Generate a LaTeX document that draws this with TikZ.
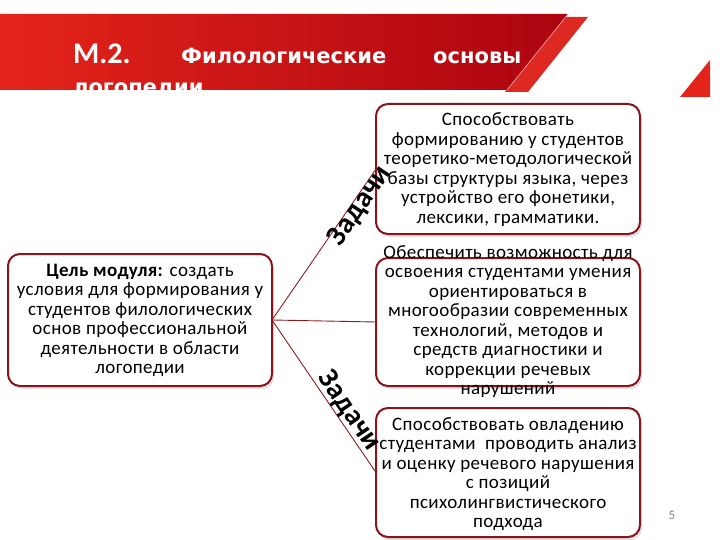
\documentclass[tikz,border=0pt]{standalone}
\usepackage{fontspec}
\setmainfont{Carlito}
\newfontfamily\boxfont[LetterSpace=2]{Carlito}
\newfontfamily\titlefont{DejaVu Sans}
\usetikzlibrary{shadows}
\definecolor{boxred}{RGB}{135,22,28}
\definecolor{linered}{RGB}{140,30,35}
\definecolor{bannerL}{RGB}{228,36,26}
\definecolor{bannerR}{RGB}{172,4,16}
\definecolor{stripered}{RGB}{222,40,34}
\begin{document}
\begin{tikzpicture}[x=1pt,y=-1pt,
  box/.style={draw=boxred, line width=2pt, rounded corners=12pt, fill=white,
    inner sep=0pt, outer sep=0pt,
    drop shadow={opacity=0.25, shadow xshift=2pt, shadow yshift=-3pt}},
  txt/.style={align=center, inner sep=0pt, font=\boxfont\fontsize{19}{19.5}\selectfont},
  conn/.style={draw=linered, line width=0.9pt},
  lab/.style={inner sep=0pt, font=\fontsize{29}{29}\selectfont\bfseries},
  ttl/.style={inner sep=0pt, anchor=base west, text=white}]
\useasboundingbox (0,0) rectangle (720,540);
% header
\fill[stripered] (565,17) -- (588,17) -- (528,92) -- (505,92) -- cycle;
\shade[left color=bannerL, right color=bannerR] (0,14) -- (568,14) -- (507,90) -- (0,90) -- cycle;
\draw[white!70!red, line width=0.6pt] (568,14) -- (507,90);
\fill[bannerL] (710,60) -- (710,97) -- (680,97) -- cycle;
\node[ttl, font=\fontsize{30}{30}\selectfont\bfseries] (m2) at (73,64) {М.2.};
\node[ttl, font=\titlefont\bfseries\fontsize{21}{21}\selectfont] (w1) at (181,64) {Филологические};
\node[ttl, font=\titlefont\bfseries\fontsize{21}{21}\selectfont] (w2) at (433,64) {основы};
\node[ttl, font=\titlefont\bfseries\fontsize{21}{21}\selectfont] (w3) at (73,95) {логопедии};
% boxes
\node[box, minimum width=264pt, minimum height=132pt] (goal) at (140,320) {};
\node[box, minimum width=264pt, minimum height=130pt] (t1) at (508,169) {};
\node[box, minimum width=264pt, minimum height=128pt] (t2) at (508,322) {};
\node[box, minimum width=264pt, minimum height=129pt] (t3) at (508,472.5) {};
% connectors
\draw[conn] (goal.east) -- (t1.west);
\draw[conn] (goal.east) -- (t2.west);
\draw[conn] (goal.east) -- (t3.west);
% texts
\node[txt] (goaltxt) at (140,320.5) {\textbf{Цель модуля:} создать\\условия для формирования у\\студентов филологических\\основ профессиональной\\деятельности в области\\логопедии};
\node[txt] (t1txt) at (508,169.7) {Способствовать\\формированию у студентов\\теоретико-методологической\\базы структуры языка, через\\устройство его фонетики,\\лексики, грамматики.};
\node[txt] (t2txt) at (508,321.5) {Обеспечить возможность для\\освоения студентами умения\\ориентироваться в\\многообразии современных\\технологий, методов и\\средств диагностики и\\коррекции речевых\\нарушений};
\node[txt] (t3txt) at (508,474) {Способствовать овладению\\студентами\ \ проводить анализ\\и оценку речевого нарушения\\с позиций\\психолингвистического\\подхода};
% labels
\node[lab, rotate=56] (z1) at (360,206) {Задачи};
\node[lab, rotate=-56] (z2) at (349,411) {Задачи};
\node[inner sep=0pt, text=gray, font=\fontsize{13}{13}\selectfont] (pg) at (672,515) {5};
\end{tikzpicture}
\end{document}
